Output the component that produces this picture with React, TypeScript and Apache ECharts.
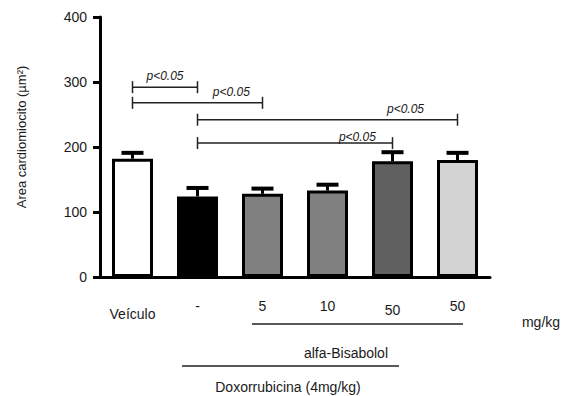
import React, { useEffect, useRef } from "react";
import * as echarts from "echarts";

const categories = ["Veículo", "-", "5", "10", "50", "50"];
const means = [182, 124, 128, 133, 178, 180];
const errors = [9, 13, 8, 9, 14, 11];
const barColors = ["#ffffff", "#000000", "#808080", "#808080", "#606060", "#d3d3d3"];
const yTicks = { min: 0, max: 400, interval: 100 };
// significance brackets
const bracketFrom = [0, 0, 1, 1];
const bracketTo = [1, 2, 5, 4];
const bracketY = [292, 268, 242, 206];
const bracketLabelT = [0.5, 0.76, 0.8, 0.82];
const bracketLabel = ["p<0.05", "p<0.05", "p<0.05", "p<0.05"];

const FONT = "Liberation Sans, Arial, sans-serif";
const TXT = "#1a1a1a";

export default function App() {
  const ref = useRef<HTMLDivElement>(null);
  useEffect(() => {
    if (!ref.current) return;
    const chart = echarts.init(ref.current, undefined, { renderer: "svg" });
    const bracketData = bracketFrom.map((f, i) => [f, bracketTo[i], bracketY[i], bracketLabelT[i], i]);
    chart.setOption({
      animation: false,
      backgroundColor: "#ffffff",
      textStyle: { fontFamily: FONT },
      grid: { left: 100, right: 81, top: 17, bottom: 119, containLabel: false },
      xAxis: {
        type: "category",
        data: categories,
        axisLine: { lineStyle: { color: "#000", width: 3 } },
        axisTick: { alignWithLabel: true, interval: 0, length: 7, lineStyle: { color: "#000", width: 3 } },
        axisLabel: {
          interval: 0,
          hideOverlap: false,
          margin: 22,
          color: TXT,
          fontSize: 14,
          fontFamily: FONT,
          formatter: (v: string, i: number) => (i === 0 ? `{a|${v}}` : i === 4 ? `{c|${v}}` : `{b|${v}}`),
          rich: {
            a: { fontSize: 14, color: TXT, fontFamily: FONT, padding: [8, 0, 0, 0] },
            b: { fontSize: 14, color: TXT, fontFamily: FONT },
            c: { fontSize: 14, color: TXT, fontFamily: FONT, padding: [4, 0, 0, 0] },
          },
        },
      },
      yAxis: {
        type: "value",
        min: yTicks.min,
        max: yTicks.max,
        interval: yTicks.interval,
        splitLine: { show: false },
        axisLine: { show: true, lineStyle: { color: "#000", width: 3 } },
        axisTick: { show: true, length: 7, lineStyle: { color: "#000", width: 3 } },
        axisLabel: { margin: 13, color: TXT, fontSize: 14, fontFamily: FONT },
      },
      series: [
        {
          type: "bar",
          barWidth: 41,
          data: means.map((v, i) => ({
            value: v,
            itemStyle: { color: barColors[i], borderColor: "#000", borderWidth: 3 },
          })),
          z: 2,
        },
        {
          type: "custom",
          z: 3,
          clip: false,
          data: means.map((m, i) => [i, m, errors[i]]),
          renderItem: (params: any, api: any) => {
            const base = api.coord([api.value(0), api.value(1)]);
            const top = api.coord([api.value(0), api.value(1) + api.value(2)]);
            return {
              type: "group",
              children: [
                {
                  type: "line",
                  shape: { x1: base[0], y1: base[1], x2: top[0], y2: top[1] },
                  style: { stroke: "#000", lineWidth: 3 },
                },
                {
                  type: "line",
                  shape: { x1: top[0] - 11, y1: top[1], x2: top[0] + 11, y2: top[1] },
                  style: { stroke: "#000", lineWidth: 4 },
                },
              ],
            };
          },
        },
        {
          type: "custom",
          z: 4,
          clip: false,
          data: bracketData,
          renderItem: (params: any, api: any) => {
            const a = api.coord([api.value(0), api.value(2)]);
            const b = api.coord([api.value(1), api.value(2)]);
            const t = api.value(3);
            const idx = api.value(4);
            const lx = a[0] + (b[0] - a[0]) * t;
            const stroke = "#222";
            return {
              type: "group",
              children: [
                { type: "line", shape: { x1: a[0], y1: a[1], x2: b[0], y2: b[1] }, style: { stroke, lineWidth: 1.5 } },
                { type: "line", shape: { x1: a[0], y1: a[1] - 6, x2: a[0], y2: a[1] + 6 }, style: { stroke, lineWidth: 1.5 } },
                { type: "line", shape: { x1: b[0], y1: b[1] - 6, x2: b[0], y2: b[1] + 6 }, style: { stroke, lineWidth: 1.5 } },
                {
                  type: "text",
                  x: lx,
                  y: a[1] - (idx === 3 ? 0 : 5),
                  style: {
                    text: bracketLabel[idx],
                    fill: TXT,
                    font: `italic 12px ${FONT}`,
                    align: "center",
                    verticalAlign: "bottom",
                  },
                },
              ],
            };
          },
        },
      ],
      graphic: [
        {
          type: "text",
          x: 21,
          y: 137,
          rotation: Math.PI / 2,
          style: { text: "Area cardiomiocito (µm²)", fill: TXT, font: `13px ${FONT}`, align: "center", verticalAlign: "middle" },
        },
        {
          type: "text",
          x: 541,
          y: 322,
          style: { text: "mg/kg", fill: TXT, font: `14px ${FONT}`, align: "center", verticalAlign: "middle" },
        },
        { type: "line", shape: { x1: 252, y1: 324, x2: 463, y2: 324 }, style: { stroke: "#222", lineWidth: 1.5 } },
        {
          type: "text",
          x: 346,
          y: 353,
          style: { text: "alfa-Bisabolol", fill: TXT, font: `14px ${FONT}`, align: "center", verticalAlign: "middle" },
        },
        { type: "line", shape: { x1: 182, y1: 366, x2: 399, y2: 366 }, style: { stroke: "#222", lineWidth: 1.5 } },
        {
          type: "text",
          x: 288,
          y: 387,
          style: { text: "Doxorrubicina (4mg/kg)", fill: TXT, font: `14px ${FONT}`, align: "center", verticalAlign: "middle" },
        },
      ],
    });
    return () => chart.dispose();
  }, []);
  return <div ref={ref} style={{ position: "fixed", left: 0, top: 0, width: 571, height: 396 }} />;
}
